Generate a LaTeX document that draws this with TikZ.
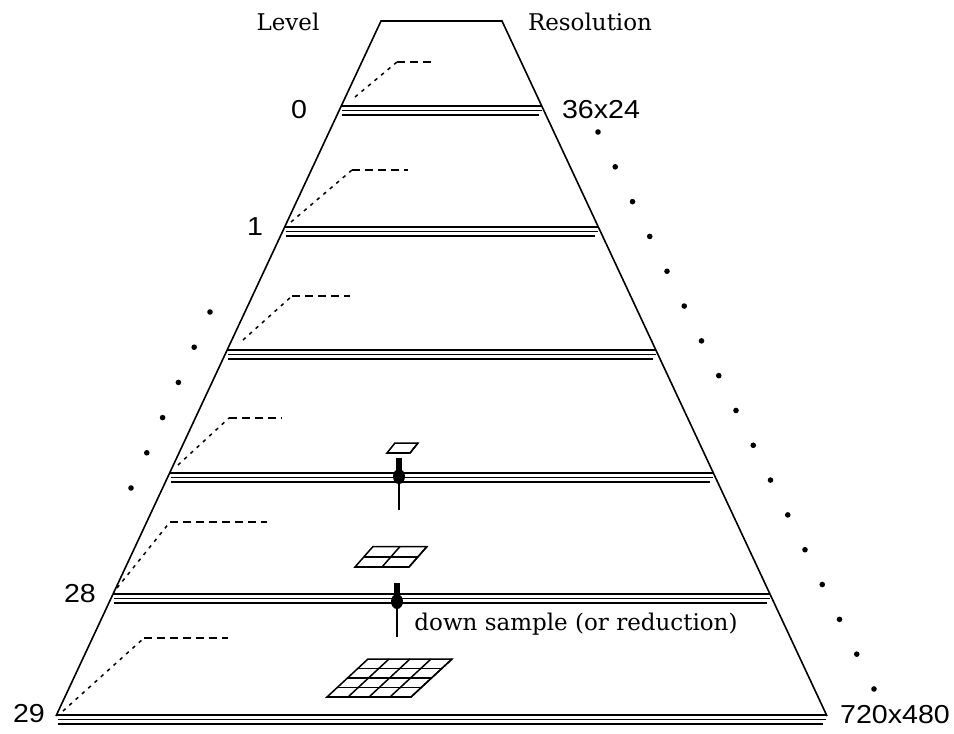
\documentclass[tikz,border=0pt]{standalone}
\usepackage{fontspec}
\setmainfont{DejaVu Serif}
\newfontfamily\numfont{Liberation Sans}
\usetikzlibrary{calc}
\tikzset{
  edge/.style={line width=1.6pt},
  triple/.style={line width=1.6pt},
  diagdash/.style={line width=1.5pt,dash pattern=on 3.5pt off 5pt},
  hdash/.style={line width=1.6pt,dash pattern=on 8pt off 5pt},
  serlab/.style={anchor=base,inner sep=0pt,font=\fontsize{23}{27}\selectfont},
  numlab/.style={anchor=base,inner sep=0pt,font=\numfont\fontsize{26}{30}\selectfont},
  gridln/.style={line width=1.5pt},
  arrowln/.style={line width=1.6pt},
  dot/.style={fill=black}
}
\newcommand\dsblob[1]{%
  \fill ($(#1)+(-2.8,0)$) rectangle ($(#1)+(2.8,13)$);
  \fill ($(#1)+(0,18.5)$) ellipse [x radius=6, y radius=7.5];}
\newcommand\dsgrid[5]{% TL TR BR BL n
  \draw[gridln] (#1) -- (#2) -- (#3) -- (#4) -- cycle;
  \foreach \i in {1,...,#5} {
    \pgfmathsetmacro\f{\i/#5}
    \draw[gridln] ($(#1)!\f!(#4)$) -- ($(#2)!\f!(#3)$);
    \draw[gridln] ($(#1)!\f!(#2)$) -- ($(#4)!\f!(#3)$);
  }}
\begin{document}
\begin{tikzpicture}[x=1pt,y=-1pt]
\useasboundingbox (0,0) rectangle (954,734);
% pyramid sides
\coordinate (TL) at (381,21);
\coordinate (TR) at (502,21);
\coordinate (BL) at (56,716);
\coordinate (BR) at (827,716);
\draw[edge] (BL) -- (TL) -- (TR) -- (BR);
% triple level lines
\foreach \y [count=\k] in {106,227,350,473,594,715} {
  \pgfmathsetmacro\xl{381-0.4675*(\y-21)}
  \pgfmathsetmacro\xr{502+0.467*(\y-21)}
  \coordinate (l\k) at (\xl,\y);
  \coordinate (r\k) at (\xr,\y);
  \draw[triple] (l\k) -- (r\k);
  \draw[triple] ($(l\k)+(1,4.5)$) -- ($(r\k)+(0,4.5)$);
  \draw[triple] ($(l\k)+(1,9)$) -- ($(r\k)+(-3,9)$);
}
% dashed leaders
\foreach \sx/\sy/\kx/\ky/\ex in {355/97/397/62/435, 291/222/352/170/408, 243/340/292/296/350, 178/465/229/418/282, 117/588/170/522/267, 63/711/144/638/228} {
  \coordinate (ls) at (\sx,\sy);
  \coordinate (lk) at (\kx,\ky);
  \coordinate (le) at (\ex,\ky);
  \draw[diagdash] (ls) -- (lk);
  \draw[hdash] (lk) -- (le);
}
% dots
\foreach \i in {0,...,16} {
  \fill[dot] ({598+\i*17.25},{132+\i*34.81}) circle (2.8);
}
\foreach \i in {0,...,5} {
  \fill[dot] ({210-\i*15.8},{312+\i*35.2}) circle (2.8);
}
% labels
\node[serlab] (level) at (288,30) {Level};
\node[serlab] (res) at (590,30) {Resolution};
\node[numlab] (n0) at (299,118) {\scalebox{1.1}[1]{0}};
\node[numlab] (n1) at (255,235) {\scalebox{1.1}[1]{1}};
\node[numlab] (n28) at (80,602) {\scalebox{1.1}[1]{28}};
\node[numlab] (n29) at (29,722) {\scalebox{1.1}[1]{29}};
\node[numlab] (r0) at (601,118) {\scalebox{1.1}[1]{36x24}};
\node[numlab] (r29) at (895,723) {\scalebox{1.1}[1]{720x480}};
\node[serlab] (ds) at (576,630) {down sample (or reduction)};
% grids
\coordinate (g1a) at (395,443); \coordinate (g1b) at (418,443);
\coordinate (g1c) at (410,453); \coordinate (g1d) at (387,453);
\dsgrid{g1a}{g1b}{g1c}{g1d}{1}
\coordinate (g2a) at (373,546.5); \coordinate (g2b) at (427,546.5);
\coordinate (g2c) at (409,567); \coordinate (g2d) at (355,567);
\dsgrid{g2a}{g2b}{g2c}{g2d}{2}
\coordinate (g4a) at (368,659); \coordinate (g4b) at (452,659);
\coordinate (g4c) at (411,697); \coordinate (g4d) at (327,697);
\dsgrid{g4a}{g4b}{g4c}{g4d}{4}
% down-sample arrows
\coordinate (a1t) at (399,458); \coordinate (a1b) at (399,510);
\draw[arrowln] (a1b) -- (a1t);
\dsblob{a1t}
\coordinate (a2t) at (397,583); \coordinate (a2b) at (397,637);
\draw[arrowln] (a2b) -- (a2t);
\dsblob{a2t}
\end{tikzpicture}
\end{document}
